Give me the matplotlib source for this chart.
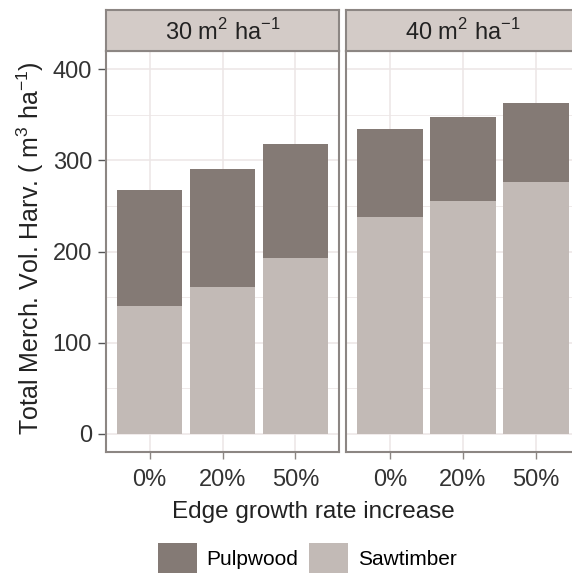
import numpy as np
import matplotlib.pyplot as plt
from matplotlib.patches import Patch

plt.rcParams['font.family'] = ['Liberation Sans', 'DejaVu Sans']
plt.rcParams['mathtext.fontset'] = 'custom'
plt.rcParams['mathtext.rm'] = 'Liberation Sans'

categories = ['0%', '20%', '50%']
panels = [r'30 m$^2$ ha$^{-1}$', r'40 m$^2$ ha$^{-1}$']
sawtimber = [[140, 161, 193], [238, 255, 276]]
total = [[268, 290, 318], [334, 348, 363]]

DARK = '#847a75'
LIGHT = '#c2bab6'
STRIP = '#d3cbc7'
BORDER = '#8c8683'
GRID = '#ece6e6'
FS = 17

W, H = 572, 573
fig = plt.figure(figsize=(W / 100, H / 100), dpi=100)


def px(x0, y0, x1, y1):
    return [x0 / W, 1 - y1 / H, (x1 - x0) / W, (y1 - y0) / H]


lefts = [(106, 339), (346, 580)]
x = np.arange(len(categories))
for i, (l, r) in enumerate(lefts):
    ax = fig.add_axes(px(l, 51, r, 452))
    saw = np.array(sawtimber[i])
    pulp = np.array(total[i]) - saw
    ax.bar(x, saw, width=0.9, color=LIGHT, zorder=2)
    ax.bar(x, pulp, bottom=saw, width=0.9, color=DARK, zorder=2)
    ax.set_xlim(-0.6, 2.6)
    ax.set_ylim(-20, 420)
    ax.set_yticks([0, 100, 200, 300, 400])
    ax.set_yticks([50, 150, 250, 350], minor=True)
    ax.set_xticks(x)
    ax.set_xticklabels(categories, fontsize=FS, color='#333333')
    ax.grid(True, which='major', color=GRID, lw=1.1, zorder=0)
    ax.grid(True, which='minor', axis='y', color=GRID, lw=0.6, zorder=0)
    ax.set_axisbelow(True)
    for s in ax.spines.values():
        s.set_color(BORDER)
        s.set_linewidth(1.5)
    ax.tick_params(axis='x', length=5, width=1, color=BORDER, pad=7)
    ax.tick_params(axis='y', which='minor', length=0)
    if i == 0:
        ax.tick_params(axis='y', length=6, width=1, color='#555555',
                       labelsize=FS, labelcolor='#333333', pad=4)
    else:
        ax.tick_params(axis='y', length=0, labelleft=False)

    sx = fig.add_axes(px(l, 10, r, 51))
    sx.set_facecolor(STRIP)
    sx.set_xticks([])
    sx.set_yticks([])
    for s in sx.spines.values():
        s.set_color(BORDER)
        s.set_linewidth(1.5)
    sx.text(0.5, 0.47, panels[i], transform=sx.transAxes, ha='center',
            va='center', fontsize=FS, color='#222222')

fig.text(313 / W, 1 - 512 / H, 'Edge growth rate increase', ha='center',
         va='center', fontsize=FS + 0.5, color='#222222')
fig.text(30 / W, 1 - 248 / H, r'Total Merch. Vol. Harv. ( m$^3$ ha$^{-1}$)',
         ha='center', va='center', rotation=90, fontsize=18, color='#222222')

handles = [Patch(facecolor=DARK), Patch(facecolor=LIGHT)]
fig.legend(handles, ['Pulpwood', 'Sawtimber'], ncol=2, frameon=False,
           loc='center', bbox_to_anchor=(307 / W, 1 - 558 / H), fontsize=15,
           handlelength=1.9, handleheight=1.8, handletextpad=0.45,
           columnspacing=0.5, borderaxespad=0, borderpad=0)

fig.savefig('out.png', dpi=100)
